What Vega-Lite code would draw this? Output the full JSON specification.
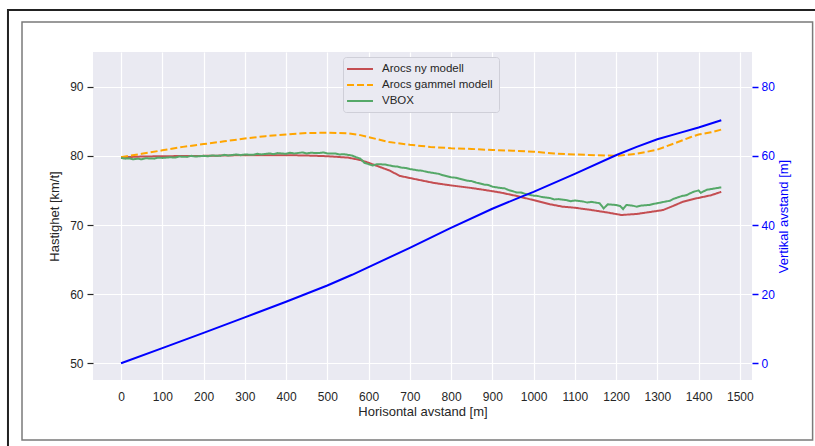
{
  "$schema": "https://vega.github.io/schema/vega-lite/v6.json",
  "autosize": {"type": "none"},
  "width": 659,
  "height": 328,
  "padding": {"left": 93, "top": 52, "right": 63, "bottom": 66},
  "background": "white",
  "datasets": {
    "speed": [
      {"x": 0, "s": "Arocs ny modell", "v": 79.8},
      {"x": 50, "s": "Arocs ny modell", "v": 79.9},
      {"x": 100, "s": "Arocs ny modell", "v": 79.95},
      {"x": 200, "s": "Arocs ny modell", "v": 80.0},
      {"x": 300, "s": "Arocs ny modell", "v": 80.1},
      {"x": 400, "s": "Arocs ny modell", "v": 80.1},
      {"x": 450, "s": "Arocs ny modell", "v": 80.05},
      {"x": 500, "s": "Arocs ny modell", "v": 79.95},
      {"x": 550, "s": "Arocs ny modell", "v": 79.75},
      {"x": 580, "s": "Arocs ny modell", "v": 79.4},
      {"x": 600, "s": "Arocs ny modell", "v": 79.0},
      {"x": 650, "s": "Arocs ny modell", "v": 77.9},
      {"x": 676, "s": "Arocs ny modell", "v": 77.1},
      {"x": 700, "s": "Arocs ny modell", "v": 76.8},
      {"x": 757, "s": "Arocs ny modell", "v": 76.1},
      {"x": 797, "s": "Arocs ny modell", "v": 75.75},
      {"x": 850, "s": "Arocs ny modell", "v": 75.35},
      {"x": 878, "s": "Arocs ny modell", "v": 75.1},
      {"x": 920, "s": "Arocs ny modell", "v": 74.7},
      {"x": 959, "s": "Arocs ny modell", "v": 74.2},
      {"x": 1000, "s": "Arocs ny modell", "v": 73.6},
      {"x": 1040, "s": "Arocs ny modell", "v": 73.0},
      {"x": 1071, "s": "Arocs ny modell", "v": 72.65},
      {"x": 1100, "s": "Arocs ny modell", "v": 72.5},
      {"x": 1137, "s": "Arocs ny modell", "v": 72.2},
      {"x": 1180, "s": "Arocs ny modell", "v": 71.8},
      {"x": 1213, "s": "Arocs ny modell", "v": 71.45},
      {"x": 1250, "s": "Arocs ny modell", "v": 71.6},
      {"x": 1290, "s": "Arocs ny modell", "v": 71.95},
      {"x": 1314, "s": "Arocs ny modell", "v": 72.17},
      {"x": 1340, "s": "Arocs ny modell", "v": 72.8},
      {"x": 1362, "s": "Arocs ny modell", "v": 73.37},
      {"x": 1395, "s": "Arocs ny modell", "v": 73.86},
      {"x": 1430, "s": "Arocs ny modell", "v": 74.3},
      {"x": 1455, "s": "Arocs ny modell", "v": 74.8},
      {"x": 0, "s": "Arocs gammel modell", "v": 79.8},
      {"x": 50, "s": "Arocs gammel modell", "v": 80.3},
      {"x": 100, "s": "Arocs gammel modell", "v": 80.8},
      {"x": 150, "s": "Arocs gammel modell", "v": 81.3},
      {"x": 200, "s": "Arocs gammel modell", "v": 81.7},
      {"x": 250, "s": "Arocs gammel modell", "v": 82.1},
      {"x": 300, "s": "Arocs gammel modell", "v": 82.5},
      {"x": 350, "s": "Arocs gammel modell", "v": 82.85},
      {"x": 400, "s": "Arocs gammel modell", "v": 83.1},
      {"x": 450, "s": "Arocs gammel modell", "v": 83.3},
      {"x": 500, "s": "Arocs gammel modell", "v": 83.35},
      {"x": 550, "s": "Arocs gammel modell", "v": 83.25},
      {"x": 580, "s": "Arocs gammel modell", "v": 83.0},
      {"x": 600, "s": "Arocs gammel modell", "v": 82.7},
      {"x": 650, "s": "Arocs gammel modell", "v": 82.0},
      {"x": 700, "s": "Arocs gammel modell", "v": 81.6},
      {"x": 750, "s": "Arocs gammel modell", "v": 81.3},
      {"x": 800, "s": "Arocs gammel modell", "v": 81.1},
      {"x": 850, "s": "Arocs gammel modell", "v": 81.0},
      {"x": 900, "s": "Arocs gammel modell", "v": 80.85},
      {"x": 950, "s": "Arocs gammel modell", "v": 80.75},
      {"x": 1000, "s": "Arocs gammel modell", "v": 80.6},
      {"x": 1050, "s": "Arocs gammel modell", "v": 80.35},
      {"x": 1100, "s": "Arocs gammel modell", "v": 80.2},
      {"x": 1150, "s": "Arocs gammel modell", "v": 80.1},
      {"x": 1200, "s": "Arocs gammel modell", "v": 80.0},
      {"x": 1250, "s": "Arocs gammel modell", "v": 80.3},
      {"x": 1300, "s": "Arocs gammel modell", "v": 80.9},
      {"x": 1350, "s": "Arocs gammel modell", "v": 82.0},
      {"x": 1380, "s": "Arocs gammel modell", "v": 82.7},
      {"x": 1400, "s": "Arocs gammel modell", "v": 83.1},
      {"x": 1430, "s": "Arocs gammel modell", "v": 83.4},
      {"x": 1455, "s": "Arocs gammel modell", "v": 83.8},
      {"x": 0, "s": "VBOX", "v": 79.7},
      {"x": 10, "s": "VBOX", "v": 79.6},
      {"x": 20, "s": "VBOX", "v": 79.65},
      {"x": 30, "s": "VBOX", "v": 79.5},
      {"x": 40, "s": "VBOX", "v": 79.6},
      {"x": 50, "s": "VBOX", "v": 79.5},
      {"x": 60, "s": "VBOX", "v": 79.65},
      {"x": 80, "s": "VBOX", "v": 79.6},
      {"x": 90, "s": "VBOX", "v": 79.75},
      {"x": 100, "s": "VBOX", "v": 79.7},
      {"x": 120, "s": "VBOX", "v": 79.8},
      {"x": 130, "s": "VBOX", "v": 79.75},
      {"x": 140, "s": "VBOX", "v": 79.9},
      {"x": 160, "s": "VBOX", "v": 79.85},
      {"x": 170, "s": "VBOX", "v": 80.0},
      {"x": 180, "s": "VBOX", "v": 79.9},
      {"x": 200, "s": "VBOX", "v": 80.0},
      {"x": 210, "s": "VBOX", "v": 79.95},
      {"x": 220, "s": "VBOX", "v": 80.05},
      {"x": 240, "s": "VBOX", "v": 80.0},
      {"x": 250, "s": "VBOX", "v": 80.15},
      {"x": 260, "s": "VBOX", "v": 80.05},
      {"x": 280, "s": "VBOX", "v": 80.2},
      {"x": 290, "s": "VBOX", "v": 80.1},
      {"x": 300, "s": "VBOX", "v": 80.2},
      {"x": 320, "s": "VBOX", "v": 80.15},
      {"x": 330, "s": "VBOX", "v": 80.3},
      {"x": 340, "s": "VBOX", "v": 80.2},
      {"x": 360, "s": "VBOX", "v": 80.35},
      {"x": 370, "s": "VBOX", "v": 80.25},
      {"x": 380, "s": "VBOX", "v": 80.4},
      {"x": 400, "s": "VBOX", "v": 80.3},
      {"x": 410, "s": "VBOX", "v": 80.45},
      {"x": 420, "s": "VBOX", "v": 80.35},
      {"x": 440, "s": "VBOX", "v": 80.5},
      {"x": 450, "s": "VBOX", "v": 80.35},
      {"x": 460, "s": "VBOX", "v": 80.45},
      {"x": 480, "s": "VBOX", "v": 80.4},
      {"x": 490, "s": "VBOX", "v": 80.5},
      {"x": 500, "s": "VBOX", "v": 80.35},
      {"x": 520, "s": "VBOX", "v": 80.35},
      {"x": 530, "s": "VBOX", "v": 80.2},
      {"x": 540, "s": "VBOX", "v": 80.25},
      {"x": 560, "s": "VBOX", "v": 80.05},
      {"x": 570, "s": "VBOX", "v": 79.8},
      {"x": 580, "s": "VBOX", "v": 79.6},
      {"x": 590, "s": "VBOX", "v": 79.0},
      {"x": 600, "s": "VBOX", "v": 78.8},
      {"x": 610, "s": "VBOX", "v": 78.6},
      {"x": 620, "s": "VBOX", "v": 78.8},
      {"x": 640, "s": "VBOX", "v": 78.75},
      {"x": 660, "s": "VBOX", "v": 78.5},
      {"x": 670, "s": "VBOX", "v": 78.45},
      {"x": 680, "s": "VBOX", "v": 78.3},
      {"x": 690, "s": "VBOX", "v": 78.25},
      {"x": 700, "s": "VBOX", "v": 78.1},
      {"x": 720, "s": "VBOX", "v": 77.9},
      {"x": 730, "s": "VBOX", "v": 77.85},
      {"x": 740, "s": "VBOX", "v": 77.7},
      {"x": 760, "s": "VBOX", "v": 77.5},
      {"x": 770, "s": "VBOX", "v": 77.4},
      {"x": 780, "s": "VBOX", "v": 77.2},
      {"x": 800, "s": "VBOX", "v": 76.9},
      {"x": 810, "s": "VBOX", "v": 76.85},
      {"x": 820, "s": "VBOX", "v": 76.7},
      {"x": 840, "s": "VBOX", "v": 76.4},
      {"x": 850, "s": "VBOX", "v": 76.35},
      {"x": 860, "s": "VBOX", "v": 76.15},
      {"x": 880, "s": "VBOX", "v": 75.85},
      {"x": 890, "s": "VBOX", "v": 75.8},
      {"x": 900, "s": "VBOX", "v": 75.55},
      {"x": 920, "s": "VBOX", "v": 75.35},
      {"x": 930, "s": "VBOX", "v": 75.3},
      {"x": 940, "s": "VBOX", "v": 75.05},
      {"x": 960, "s": "VBOX", "v": 74.7},
      {"x": 970, "s": "VBOX", "v": 74.7},
      {"x": 980, "s": "VBOX", "v": 74.5},
      {"x": 1000, "s": "VBOX", "v": 74.25},
      {"x": 1010, "s": "VBOX", "v": 74.2},
      {"x": 1020, "s": "VBOX", "v": 74.05},
      {"x": 1040, "s": "VBOX", "v": 73.9},
      {"x": 1050, "s": "VBOX", "v": 73.7},
      {"x": 1060, "s": "VBOX", "v": 73.75},
      {"x": 1080, "s": "VBOX", "v": 73.6},
      {"x": 1090, "s": "VBOX", "v": 73.45},
      {"x": 1100, "s": "VBOX", "v": 73.55},
      {"x": 1120, "s": "VBOX", "v": 73.4},
      {"x": 1130, "s": "VBOX", "v": 73.25},
      {"x": 1140, "s": "VBOX", "v": 73.35},
      {"x": 1160, "s": "VBOX", "v": 73.15},
      {"x": 1170, "s": "VBOX", "v": 72.4},
      {"x": 1180, "s": "VBOX", "v": 73.0},
      {"x": 1200, "s": "VBOX", "v": 72.9},
      {"x": 1210, "s": "VBOX", "v": 72.75},
      {"x": 1217, "s": "VBOX", "v": 72.3},
      {"x": 1225, "s": "VBOX", "v": 72.9},
      {"x": 1240, "s": "VBOX", "v": 72.8},
      {"x": 1250, "s": "VBOX", "v": 72.65},
      {"x": 1260, "s": "VBOX", "v": 72.8},
      {"x": 1280, "s": "VBOX", "v": 72.9},
      {"x": 1290, "s": "VBOX", "v": 73.05},
      {"x": 1300, "s": "VBOX", "v": 73.15},
      {"x": 1320, "s": "VBOX", "v": 73.4},
      {"x": 1330, "s": "VBOX", "v": 73.5},
      {"x": 1340, "s": "VBOX", "v": 73.8},
      {"x": 1360, "s": "VBOX", "v": 74.2},
      {"x": 1370, "s": "VBOX", "v": 74.3},
      {"x": 1380, "s": "VBOX", "v": 74.6},
      {"x": 1390, "s": "VBOX", "v": 74.85},
      {"x": 1400, "s": "VBOX", "v": 75.0},
      {"x": 1405, "s": "VBOX", "v": 74.65},
      {"x": 1420, "s": "VBOX", "v": 75.1},
      {"x": 1440, "s": "VBOX", "v": 75.3},
      {"x": 1455, "s": "VBOX", "v": 75.45}
    ],
    "height": [
      {"x": 0, "h": 0},
      {"x": 100, "h": 4.4},
      {"x": 200, "h": 8.8},
      {"x": 300, "h": 13.3},
      {"x": 400, "h": 17.8},
      {"x": 500, "h": 22.5},
      {"x": 560, "h": 25.6},
      {"x": 600, "h": 27.8},
      {"x": 700, "h": 33.4},
      {"x": 797, "h": 39.0},
      {"x": 900, "h": 44.7},
      {"x": 971, "h": 48.2},
      {"x": 1000, "h": 49.6},
      {"x": 1100, "h": 54.8},
      {"x": 1201, "h": 60.25},
      {"x": 1250, "h": 62.6},
      {"x": 1300, "h": 64.8},
      {"x": 1350, "h": 66.5},
      {"x": 1400, "h": 68.2},
      {"x": 1455, "h": 70.3}
    ]
  },
  "layer": [
    {
      "layer": [
        {
          "data": {"name": "speed"},
          "mark": {"type": "line", "strokeWidth": 2},
          "encoding": {
            "x": {
              "field": "x", "type": "quantitative",
              "scale": {"domain": [-68, 1529.5], "nice": false, "zero": false},
              "axis": {
                "title": "Horisontal avstand [m]",
                "format": "d",
                "values": [0, 100, 200, 300, 400, 500, 600, 700, 800, 900, 1000, 1100, 1200, 1300, 1400, 1500],
                "ticks": false, "domain": false, "grid": true,
                "labelPadding": 11, "titlePadding": 3
              }
            },
            "y": {
              "field": "v", "type": "quantitative",
              "scale": {"domain": [47.59, 95.02], "nice": false, "zero": false},
              "axis": {
                "orient": "left",
                "title": "Hastighet [km/t]",
                "values": [50, 60, 70, 80, 90],
                "ticks": true, "tickSize": 6, "tickColor": "#262626", "tickWidth": 1.2,
                "domain": false, "grid": true, "labelPadding": 4, "titlePadding": 8
              }
            },
            "color": {
              "field": "s", "type": "nominal",
              "scale": {
                "domain": ["Arocs ny modell", "Arocs gammel modell", "VBOX"],
                "range": ["#c44e52", "#ffa500", "#55a868"]
              },
              "legend": {"title": null}
            },
            "strokeDash": {
              "field": "s", "type": "nominal",
              "scale": {
                "domain": ["Arocs ny modell", "Arocs gammel modell", "VBOX"],
                "range": [[1, 0], [7, 3], [1, 0]]
              },
              "legend": {"title": null}
            }
          }
        },
        {
          "data": {"values": [{}]},
          "mark": {"type": "rect", "filled": false, "color": "#7a7a7a", "strokeWidth": 1.5, "clip": false},
          "encoding": {
            "x": {"datum": -240.1, "type": "quantitative"},
            "x2": {"datum": 1676.4},
            "y": {"datum": 99.36, "type": "quantitative"},
            "y2": {"datum": 38.91}
          }
        },
        {
          "data": {"values": [{}]},
          "mark": {"type": "rect", "filled": false, "color": "#222222", "strokeWidth": 2, "clip": false},
          "encoding": {
            "x": {"datum": -274.1, "type": "quantitative"},
            "x2": {"datum": 1888.5},
            "y": {"datum": 101.09, "type": "quantitative"},
            "y2": {"datum": 30.23}
          }
        }
      ]
    },
    {
      "data": {"name": "height"},
      "mark": {"type": "line", "color": "#0000ff", "strokeWidth": 2},
      "encoding": {
        "x": {"field": "x", "type": "quantitative"},
        "y": {
          "field": "h", "type": "quantitative",
          "scale": {"domain": [-4.83, 90.04], "nice": false, "zero": false},
          "axis": {
            "orient": "right",
            "title": "Vertikal avstand [m]",
            "titleAngle": 270,
            "titleBaseline": "top",
            "values": [0, 20, 40, 60, 80],
            "grid": false, "domain": false,
            "ticks": true, "tickSize": 6, "tickColor": "#0000ff", "tickWidth": 1.5,
            "labelColor": "#0000ff", "titleColor": "#0000ff",
            "labelPadding": 3, "titlePadding": 3
          }
        }
      }
    }
  ],
  "resolve": {"scale": {"y": "independent"}},
  "config": {
    "font": "Liberation Sans",
    "view": {"fill": "#eaeaf2", "stroke": null},
    "axis": {
      "gridColor": "#ffffff", "gridWidth": 1.2, "gridOpacity": 1,
      "labelFont": "Liberation Sans", "labelFontSize": 12, "labelColor": "#262626",
      "titleFont": "Liberation Sans", "titleFontSize": 13, "titleFontWeight": "normal", "titleColor": "#262626"
    },
    "legend": {
      "orient": "none", "legendX": 250, "legendY": 5,
      "symbolType": "M-1.45,0L3.27,0", "symbolSize": 121, "symbolStrokeWidth": 2,
      "labelFont": "Liberation Sans", "labelFontSize": 11.5, "labelColor": "#262626",
      "fillColor": "#eaeaf2", "strokeColor": "#cfcfd8", "cornerRadius": 3,
      "padding": 5.5, "rowPadding": 4, "labelOffset": 20.5, "labelLimit": 300
    }
  }
}
